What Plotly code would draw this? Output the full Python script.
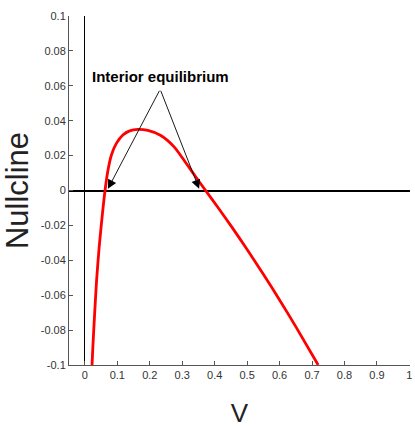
import plotly.graph_objects as go

# Nullcline curve
v_vals = [0.022, 0.0245, 0.030, 0.036, 0.044, 0.054, 0.062, 0.071, 0.082, 0.097,
          0.117, 0.138, 0.163, 0.194, 0.234, 0.275, 0.306, 0.336, 0.372, 0.408,
          0.453, 0.500, 0.550, 0.600, 0.650, 0.719]
null_vals = [-0.100, -0.0898, -0.0707, -0.0516, -0.0325, -0.0134, 0.000, 0.0115, 0.0205, 0.0270,
             0.0318, 0.0342, 0.0350, 0.0344, 0.0315, 0.0250, 0.0172, 0.0093, 0.000, -0.0092,
             -0.0210, -0.0338, -0.0480, -0.0627, -0.0780, -0.100]

x_ticks = [0, 0.1, 0.2, 0.3, 0.4, 0.5, 0.6, 0.7, 0.8, 0.9, 1]
x_tick_labels = ["0", "0.1", "0.2", "0.3", "0.4", "0.5", "0.6", "0.7", "0.8", "0.9", "1"]
y_ticks = [-0.1, -0.08, -0.06, -0.04, -0.02, 0, 0.02, 0.04, 0.06, 0.08, 0.1]
y_tick_labels = ["-0.1", "-0.08", "-0.06", "-0.04", "-0.02", "0", "0.02", "0.04", "0.06", "0.08", "0.1"]

annotation_text = "Interior equilibrium"
annot_tail = (0.232, 0.058)
equilibria = [(0.071, 0.001), (0.352, 0.001)]

tick_font = dict(family="Liberation Sans Narrow, Liberation Sans, Arial", size=11, color="#333333")

fig = go.Figure()
fig.add_trace(go.Scatter(x=v_vals, y=null_vals, mode="lines",
                         line=dict(color="#ff0000", width=2.8, shape="spline", smoothing=0.7),
                         showlegend=False, hoverinfo="skip"))

for (ex, ey) in equilibria:
    fig.add_annotation(x=ex, y=ey, ax=annot_tail[0], ay=annot_tail[1],
                       xref="x", yref="y", axref="x", ayref="y",
                       text="", showarrow=True, arrowhead=2, arrowsize=2.0,
                       arrowwidth=0.9, arrowcolor="black")

fig.add_annotation(x=annot_tail[0], y=annot_tail[1], xref="x", yref="y",
                   text="<b>" + annotation_text + "</b>", showarrow=False,
                   yshift=13, xanchor="center", yanchor="middle",
                   font=dict(family="Liberation Sans Narrow, Liberation Sans, Arial", size=15, color="black"))

fig.update_layout(
    width=415, height=428,
    margin=dict(l=69, r=3, t=16, b=63),
    paper_bgcolor="white", plot_bgcolor="white",
    xaxis=dict(range=[-0.049, 1.002], tickvals=x_ticks, ticktext=x_tick_labels,
               ticks="inside", ticklen=4, tickcolor="#555555", tickwidth=1,
               showline=True, linecolor="#555555", linewidth=1, mirror=False,
               showgrid=False, zeroline=True, zerolinecolor="black", zerolinewidth=1.2,
               tickfont=tick_font, ticklabeloverflow="allow",
               title=dict(text="V", font=dict(family="Liberation Sans Narrow, Liberation Sans, Arial", size=26, color="#222222"),
                          standoff=24)),
    yaxis=dict(range=[-0.1, 0.1], tickvals=y_ticks, ticktext=y_tick_labels,
               ticks="inside", ticklen=4, tickcolor="#555555", tickwidth=1,
               showline=True, linecolor="#555555", linewidth=1, mirror=False,
               showgrid=False, zeroline=True, zerolinecolor="black", zerolinewidth=1.5,
               tickfont=tick_font, ticklabeloverflow="allow",
               title=dict(text="Nullcline", font=dict(family="Liberation Sans, Arial", size=31, color="#222222"),
                          standoff=6)),
)

fig.write_html("out.html")
